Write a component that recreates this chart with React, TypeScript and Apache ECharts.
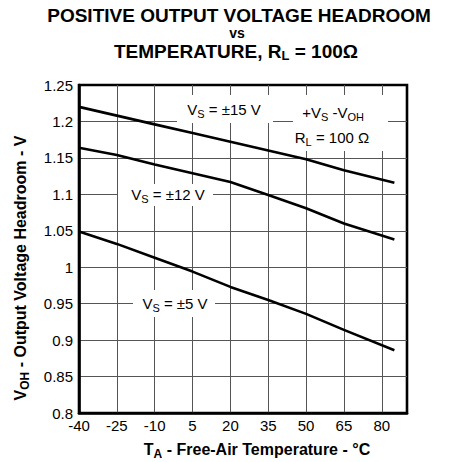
import React, { useEffect, useRef } from "react";
import * as echarts from "echarts";

// Temperatures (°C) at which the curves were read
const temps = [-40, -25, -10, 5, 20, 35, 50, 65, 85];
// V_OH headroom (V)
const vs15 = [1.22, 1.208, 1.196, 1.184, 1.172, 1.16, 1.148, 1.133, 1.116];
const vs12 = [1.164, 1.154, 1.141, 1.129, 1.117, 1.099, 1.081, 1.06, 1.038];
const vs5 = [1.049, 1.032, 1.013, 0.994, 0.973, 0.955, 0.936, 0.914, 0.886];

const xMinTemp = -40;
const xMaxTemp = 90;
const xStep = 15;
const yMin = 0.8;
const yMax = 1.25;
const yStep = 0.05;

const FONT = "'Liberation Sans', Arial, Helvetica, sans-serif";

export default function App() {
  const ref = useRef<HTMLDivElement>(null);
  useEffect(() => {
    if (!ref.current) return;
    const chart = echarts.init(ref.current, undefined, { renderer: "svg" });
    const toData = (vals: number[]) => temps.map((t, i) => [t - xMinTemp, vals[i]]);
    const lineSeries = (name: string, vals: number[]) => ({
      name,
      type: "line",
      data: toData(vals),
      showSymbol: false,
      symbol: "none",
      smooth: false,
      z: 5,
      lineStyle: { color: "#000", width: 2.6 },
    });
    const sub = { fontSize: 11, fontFamily: FONT, fill: "#000", lineHeight: 20, verticalAlign: "bottom" };
    const nrm = { fontSize: 15, fontFamily: FONT, fill: "#000", lineHeight: 20 };
    const subB = { fontSize: 12, fontWeight: "bold", fontFamily: FONT, fill: "#000", lineHeight: 22, verticalAlign: "bottom" };
    const nrmB = { fontSize: 16, fontWeight: "bold", fontFamily: FONT, fill: "#000", lineHeight: 22 };
    const subT = { fontSize: 13, fontWeight: "bold", fontFamily: FONT, fill: "#000", lineHeight: 22, verticalAlign: "bottom" };
    const nrmT = { fontSize: 19, fontWeight: "bold", fontFamily: FONT, fill: "#000", lineHeight: 22 };

    const option: any = {
      animation: false,
      backgroundColor: "#fff",
      grid: {
        left: 79,
        right: 54,
        top: 85,
        bottom: 49,
        show: true,
        borderColor: "#000",
        borderWidth: 2.6,
        backgroundColor: "#fff",
      },
      xAxis: {
        type: "value",
        min: 0,
        max: xMaxTemp - xMinTemp,
        interval: xStep,
        axisLine: { show: true, onZero: false, lineStyle: { color: "#000", width: 2.6 } },
        axisTick: { show: false },
        axisLabel: {
          margin: 5,
          fontSize: 15,
          color: "#000",
          fontFamily: FONT,
          formatter: (v: number) => (v + xMinTemp > 80 ? "" : String(v + xMinTemp)),
        },
        splitLine: {
          show: true,
          showMinLine: false,
          showMaxLine: false,
          lineStyle: { color: "#555", width: 1 },
        },
      },
      yAxis: {
        type: "value",
        min: yMin,
        max: yMax,
        interval: yStep,
        axisLine: { show: true, onZero: false, lineStyle: { color: "#000", width: 2.6 } },
        axisTick: { show: false },
        axisLabel: {
          margin: 6,
          fontSize: 15,
          color: "#000",
          fontFamily: FONT,
          formatter: (v: number) => String(+v.toFixed(2)),
        },
        splitLine: {
          show: true,
          showMinLine: false,
          showMaxLine: false,
          lineStyle: { color: "#555", width: 1 },
        },
      },
      series: [lineSeries("±15 V", vs15), lineSeries("±12 V", vs12), lineSeries("±5 V", vs5)],
      graphic: [
        // Title
        {
          type: "text", x: 239, y: 15, z: 1,
          style: { text: "POSITIVE OUTPUT VOLTAGE HEADROOM", font: `bold 19px ${FONT}`, fill: "#000", align: "center", verticalAlign: "middle" },
        },
        {
          type: "text", x: 237, y: 33, z: 1,
          style: { text: "vs", font: `bold 14px ${FONT}`, fill: "#000", align: "center", verticalAlign: "middle" },
        },
        {
          type: "text", x: 236, y: 51, z: 1,
          style: {
            text: "{n|TEMPERATURE, R}{s|L}{n| = 100Ω}",
            align: "center", verticalAlign: "middle",
            rich: { n: nrmT, s: subT },
          },
        },
        // Y axis name
        {
          type: "text", x: 20, y: 268, z: 1, rotation: Math.PI / 2,
          style: {
            text: "{n|V}{s|OH}{n| - Output Voltage Headroom - V}",
            align: "center", verticalAlign: "middle",
            rich: { n: nrmB, s: subB },
          },
        },
        // X axis name
        {
          type: "text", x: 257, y: 449, z: 1,
          style: {
            text: "{n|T}{s|A}{n| - Free-Air Temperature - °C}",
            align: "center", verticalAlign: "middle",
            rich: { n: nrmB, s: subB },
          },
        },
        // Annotation boxes
        { type: "rect", z: 1, shape: { x: 177, y: 95, width: 96, height: 28 }, style: { fill: "#fff" } },
        {
          type: "text", x: 224, y: 109, z: 2,
          style: { text: "{n|V}{s|S}{n| = ±15 V}", align: "center", verticalAlign: "middle", rich: { n: nrm, s: sub } },
        },
        { type: "rect", z: 1, shape: { x: 293, y: 95, width: 95, height: 56 }, style: { fill: "#fff" } },
        {
          type: "text", x: 333, y: 112, z: 2,
          style: { text: "{n|+V}{s|S}{n| -V}{s|OH}", align: "center", verticalAlign: "middle", rich: { n: nrm, s: sub } },
        },
        {
          type: "text", x: 332, y: 137, z: 2,
          style: { text: "{n|R}{s|L}{n| = 100 Ω}", align: "center", verticalAlign: "middle", rich: { n: nrm, s: sub } },
        },
        { type: "rect", z: 1, shape: { x: 118, y: 184, width: 95, height: 22 }, style: { fill: "#fff" } },
        {
          type: "text", x: 168, y: 194, z: 2,
          style: { text: "{n|V}{s|S}{n| = ±12 V}", align: "center", verticalAlign: "middle", rich: { n: nrm, s: sub } },
        },
        { type: "rect", z: 1, shape: { x: 133, y: 290, width: 82, height: 27 }, style: { fill: "#fff" } },
        {
          type: "text", x: 175, y: 303, z: 2,
          style: { text: "{n|V}{s|S}{n| = ±5 V}", align: "center", verticalAlign: "middle", rich: { n: nrm, s: sub } },
        },
      ],
    };
    chart.setOption(option);
    return () => chart.dispose();
  }, []);
  return (
    <div
      ref={ref}
      style={{ position: "absolute", left: 0, top: 0, width: 461, height: 462, background: "#fff" }}
    />
  );
}
